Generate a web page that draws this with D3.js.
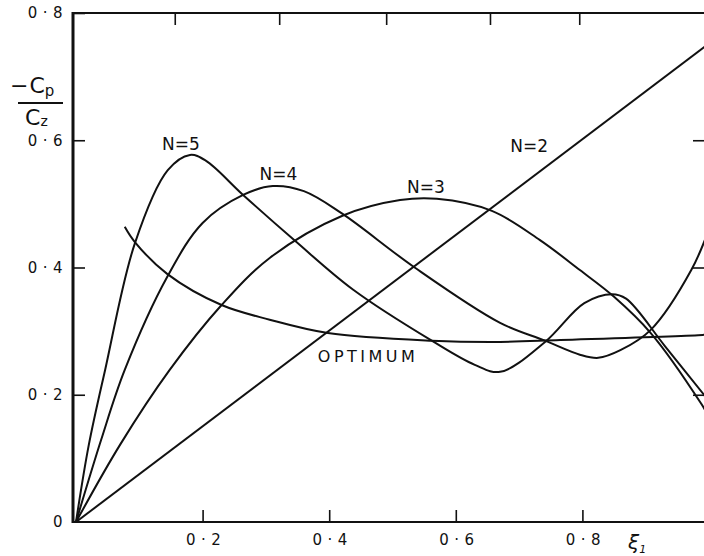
<!DOCTYPE html>
<html>
<head>
<meta charset="utf-8">
<script src="https://cdn.jsdelivr.net/npm/d3@7"></script>
<style>
  body { margin: 0; background: #fff; }
  svg { display: block; }
  text { font-family: "DejaVu Sans", sans-serif; fill: #111; }
</style>
</head>
<body>
<div id="chart"></div>
<script>
// values (xi_1 vs -Cp/Cz)
const n2X = [0, 1.0]
const n2Y = [0, 0.752]

const n3X = [0, 0.07, 0.148, 0.23, 0.306, 0.42, 0.512, 0.57, 0.657, 0.733, 0.796, 0.85, 0.908, 0.987, 1.0]
const n3Y = [0, 0.122, 0.239, 0.341, 0.415, 0.481, 0.506, 0.508, 0.489, 0.443, 0.396, 0.354, 0.297, 0.187, 0.165]

const n4X = [0, 0.04, 0.077, 0.144, 0.2, 0.264, 0.311, 0.36, 0.42, 0.535, 0.67, 0.741, 0.796, 0.825, 0.86, 0.908, 0.972, 1.0]
const n4Y = [0, 0.13, 0.239, 0.385, 0.47, 0.514, 0.528, 0.52, 0.485, 0.4, 0.313, 0.285, 0.263, 0.258, 0.27, 0.302, 0.396, 0.46]

const n5X = [0, 0.02, 0.046, 0.093, 0.145, 0.18, 0.205, 0.264, 0.346, 0.438, 0.562, 0.63, 0.67, 0.741, 0.803, 0.847, 0.869, 0.93, 0.992, 1.0]
const n5Y = [0, 0.12, 0.239, 0.438, 0.553, 0.577, 0.568, 0.514, 0.442, 0.365, 0.285, 0.247, 0.236, 0.283, 0.344, 0.358, 0.351, 0.277, 0.2, 0.19]

const optX = [0.077, 0.093, 0.144, 0.23, 0.306, 0.398, 0.562, 0.67, 0.765, 0.99, 1.0]
const optY = [0.464, 0.44, 0.39, 0.341, 0.318, 0.297, 0.285, 0.283, 0.286, 0.294, 0.295]

const xTicks = [0.2, 0.4, 0.6, 0.8]
const xTickLabels = ["0·2", "0·4", "0·6", "0·8"]
const yTicks = [0, 0.2, 0.4, 0.6, 0.8]
const yTickLabels = ["0", "0·2", "0·4", "0·6", "0·8"]
const topTicks = [0.156, 0.321, 0.49, 0.654, 0.795]
const rightTicks = [0.2, 0.4, 0.6]

const curveLabels = [
  { text: "N=5", x: 0.136, y: 0.585 },
  { text: "N=4", x: 0.29, y: 0.537 },
  { text: "N=3", x: 0.523, y: 0.517 },
  { text: "N=2", x: 0.686, y: 0.582 },
  { text: "OPTIMUM", x: 0.382, y: 0.252 },
]

const width = 704
const height = 556

const svg = d3
  .select("#chart")
  .append("svg")
  .attr("width", width)
  .attr("height", height)

const xScale = d3.scaleLinear().domain([0, 1]).range([76, 709])
const yScale = d3.scaleLinear().domain([0, 0.8]).range([522, 13])

// axes
const xAxis = d3
  .axisBottom(xScale)
  .tickValues(xTicks)
  .tickSize(-12)
  .tickPadding(12)
  .tickFormat((d, i) => xTickLabels[i])
const yAxis = d3
  .axisLeft(yScale)
  .tickValues(yTicks)
  .tickSize(-12)
  .tickPadding(5)
  .tickFormat((d, i) => yTickLabels[i])

const gx = svg.append("g").attr("transform", `translate(0, ${yScale(0)})`).call(xAxis)
const gy = svg.append("g").attr("transform", `translate(${xScale(0) - 3}, 0)`).call(yAxis)

gx.select(".domain").remove()
gy.select(".domain").remove()
svg.selectAll(".tick line").attr("stroke", "#111").attr("stroke-width", 1.6)
svg.selectAll(".tick text").attr("font-size", 15).attr("letter-spacing", 5.5).attr("fill", "#111")
gx.selectAll(".tick text").attr("dx", 3)
gy.selectAll(".tick").filter((d) => d === 0).select("line").remove()

// frame lines
svg.append("line")
  .attr("x1", xScale(0) - 3).attr("x2", xScale(0) - 3)
  .attr("y1", yScale(0.8) - 1).attr("y2", yScale(0) + 1)
  .attr("stroke", "#111").attr("stroke-width", 3)
svg.append("line")
  .attr("x1", xScale(0) - 4).attr("x2", width)
  .attr("y1", yScale(0)).attr("y2", yScale(0))
  .attr("stroke", "#111").attr("stroke-width", 2)
svg.append("line")
  .attr("x1", xScale(0) - 4).attr("x2", width)
  .attr("y1", yScale(0.8)).attr("y2", yScale(0.8))
  .attr("stroke", "#111").attr("stroke-width", 1.8)

// top and right inward ticks
svg.append("g")
  .attr("transform", `translate(0, ${yScale(0.8)})`)
  .call(d3.axisTop(xScale).tickValues(topTicks).tickSize(-12).tickFormat(""))
  .call((g) => g.select(".domain").remove())
  .selectAll("line").attr("stroke", "#111").attr("stroke-width", 1.6)
svg.append("g")
  .attr("transform", `translate(${xScale(1)}, 0)`)
  .call(d3.axisRight(yScale).tickValues(rightTicks).tickSize(-16).tickFormat(""))
  .call((g) => g.select(".domain").remove())
  .selectAll("line").attr("stroke", "#111").attr("stroke-width", 1.6)

// curves
const line = d3
  .line()
  .x((d) => xScale(d[0]))
  .y((d) => yScale(d[1]))
  .curve(d3.curveCatmullRom.alpha(0.5))

const series = [
  [n2X, n2Y],
  [n3X, n3Y],
  [n4X, n4Y],
  [n5X, n5Y],
  [optX, optY],
]

svg
  .selectAll("path.curve")
  .data(series)
  .enter()
  .append("path")
  .attr("class", "curve")
  .attr("d", ([xs, ys]) => line(xs.map((x, i) => [x, ys[i]])))
  .attr("fill", "none")
  .attr("stroke", "#111")
  .attr("stroke-width", 2)

// curve labels
svg
  .selectAll("text.clabel")
  .data(curveLabels)
  .enter()
  .append("text")
  .attr("class", "clabel")
  .attr("x", (d) => xScale(d.x))
  .attr("y", (d) => yScale(d.y))
  .attr("font-size", (d) => (d.text === "OPTIMUM" ? 16 : 17))
  .attr("letter-spacing", (d) => (d.text === "OPTIMUM" ? 3.5 : 0))
  .text((d) => d.text)

// x axis title
const xiLabel = svg.append("text").attr("x", 628).attr("y", 549).attr("font-size", 20).attr("font-style", "italic")
xiLabel.append("tspan").text("ξ")
xiLabel.append("tspan").attr("font-size", 11).attr("dy", 4).text("1")

// y axis title: -Cp / Cz
const numLabel = svg.append("text").attr("x", 10).attr("y", 93).attr("font-size", 22)
numLabel.append("tspan").text("−")
numLabel.append("tspan").attr("dx", 1).text("C")
numLabel.append("tspan").attr("font-size", 15).attr("dy", 3).text("p")
svg.append("line")
  .attr("x1", 18).attr("x2", 63).attr("y1", 103).attr("y2", 103)
  .attr("stroke", "#111").attr("stroke-width", 1.8)
const denLabel = svg.append("text").attr("x", 25).attr("y", 125).attr("font-size", 22)
denLabel.append("tspan").text("C")
denLabel.append("tspan").attr("font-size", 14).attr("dy", 1).text("z")
</script>
</body>
</html>
